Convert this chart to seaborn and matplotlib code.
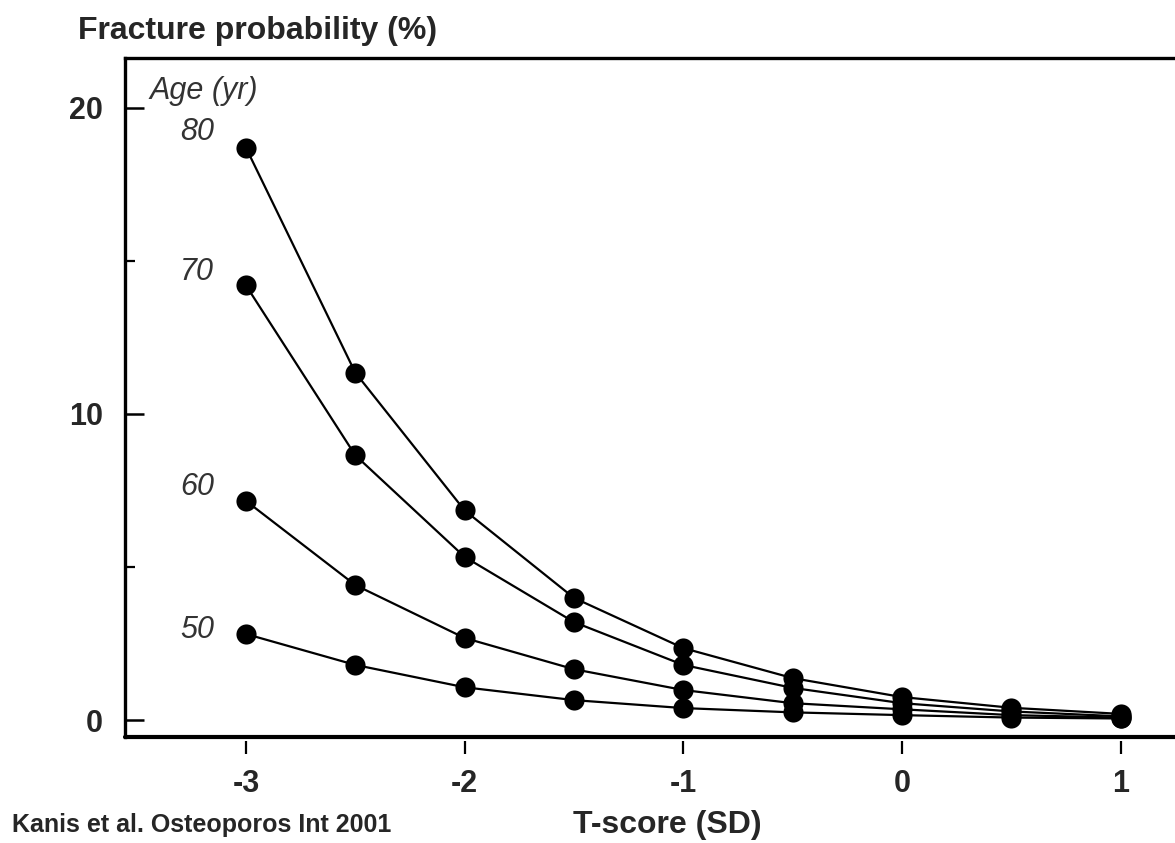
import matplotlib
matplotlib.use("Agg")
import matplotlib.pyplot as plt
import numpy as np
import pandas as pd
import seaborn as sns

# ── Data ──────────────────────────────────────────────────────────────────────
t_scores = [-3, -2.5, -2, -1.5, -1, -0.5, 0, 0.5, 1]
prob_80 = [18.7, 11.35, 6.85, 3.99, 2.35, 1.37, 0.75, 0.40, 0.20]
prob_70 = [14.2, 8.65, 5.33, 3.20, 1.80, 1.05, 0.55, 0.28, 0.12]
prob_60 = [7.16, 4.41, 2.68, 1.66, 0.98, 0.55, 0.35, 0.16, 0.08]
prob_50 = [2.81, 1.80, 1.07, 0.65, 0.39, 0.25, 0.16, 0.08, 0.05]
ages = ["80", "70", "60", "50"]
label_dy = [11, 10, 10, 3]   # label offsets above first point (points)

df = pd.DataFrame({
    "T": t_scores * 4,
    "prob": prob_80 + prob_70 + prob_60 + prob_50,
    "age": sum([[a] * len(t_scores) for a in ages], []),
})

# ── Style ─────────────────────────────────────────────────────────────────────
sns.set_theme(style="white")
plt.rcParams["font.family"] = ["Liberation Sans", "DejaVu Sans"]

fig = plt.figure(figsize=(11.75, 8.43), dpi=100)
ax = fig.add_axes([0.1064, 0.1257, 0.905, 0.8055])

sns.lineplot(
    data=df, x="T", y="prob", hue="age", hue_order=ages,
    palette=["black"] * 4, marker="o", markersize=14.5, markeredgewidth=0,
    linewidth=1.6, legend=False, ax=ax,
)

ax.set_xlim(-3.553, 1.31)
ax.set_ylim(-0.556, 21.63)

# frame: left/top/bottom; right edge runs off the picture
for s in ["left", "top"]:
    ax.spines[s].set_color("black")
    ax.spines[s].set_linewidth(2.4)
ax.spines["right"].set_visible(False)
ax.spines["bottom"].set_visible(False)
ax.axhline(-0.556, color="black", lw=3, clip_on=False)
ax.spines["bottom"].set_position(("outward", 3))

ax.set_xticks([-3, -2, -1, 0, 1])
ax.set_xticklabels(["-3", "-2", "-1", "0", "1"])
ax.set_yticks([0, 10, 20])
ax.set_yticks([5, 15], minor=True)
ax.tick_params(axis="x", direction="out", length=9, width=1.6, color="black",
               pad=11, labelsize=22, bottom=True)
ax.tick_params(axis="y", which="major", direction="in", length=14, width=1.8,
               color="black", pad=16, labelsize=22, left=True)
ax.tick_params(axis="y", which="minor", direction="in", length=7, width=1.6,
               color="black", left=True)
for lab in ax.get_xticklabels() + ax.get_yticklabels():
    lab.set_fontweight("bold")

ax.set_xlabel("")
ax.set_ylabel("")

# age labels
for a, vals, dy in zip(ages, [prob_80, prob_70, prob_60, prob_50], label_dy):
    ax.annotate(a, xy=(t_scores[0], vals[0]), xytext=(-35, dy),
                textcoords="offset points", ha="center", va="center",
                fontsize=22, style="italic", color="#333333")
ax.text(-3.44, 20.55, "Age (yr)", fontsize=22, style="italic", color="#333333",
        ha="left", va="center")

# titles and caption
fig.text(0.066, 0.963, "Fracture probability (%)", fontsize=23,
         fontweight="bold", ha="left", va="center")
fig.text(0.568, 0.021, "T-score (SD)", fontsize=23, fontweight="bold",
         ha="center", va="center")
fig.text(0.010, 0.021, "Kanis et al. Osteoporos Int 2001", fontsize=18,
         fontweight="bold", ha="left", va="center")

fig.savefig("out.png", dpi=100)
